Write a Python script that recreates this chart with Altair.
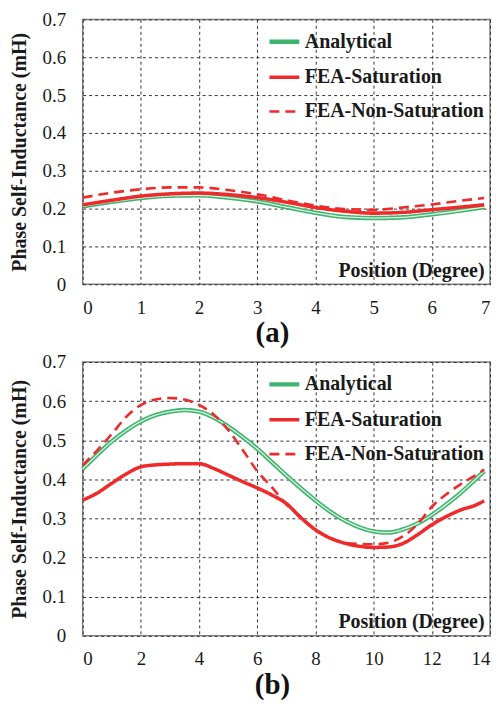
import altair as alt
import pandas as pd

series_names = ["Analytical", "FEA-Saturation", "FEA-Non-Saturation"]

# ---- panel (a) ----
pos_a = [0, 0.5, 1, 1.5, 2, 2.5, 3, 3.5, 4, 4.5, 5, 5.5, 6, 6.5, 6.9]
analytical_a = [0.206, 0.218, 0.228, 0.234, 0.235, 0.229, 0.219, 0.204, 0.189, 0.178,
                0.175, 0.177, 0.185, 0.195, 0.204]
saturation_a = [0.210, 0.222, 0.233, 0.239, 0.241, 0.237, 0.229, 0.217, 0.203, 0.193,
                0.188, 0.190, 0.197, 0.204, 0.210]
nonsat_a = [0.229, 0.242, 0.251, 0.256, 0.256, 0.249, 0.238, 0.222, 0.208, 0.199,
            0.197, 0.203, 0.211, 0.221, 0.228]
xticks_a = [0, 1, 2, 3, 4, 5, 6, 7]

# ---- panel (b) ----
pos_b = [0, 0.5, 1, 1.5, 2, 2.5, 3, 3.5, 4, 4.5, 5, 5.5, 6, 6.5, 7, 7.5, 8, 8.5, 9, 9.5,
         10, 10.5, 11, 11.5, 12, 12.5, 13, 13.5, 13.8]
analytical_b = [0.427, 0.463, 0.497, 0.525, 0.548, 0.564, 0.573, 0.577, 0.573, 0.558,
                0.535, 0.508, 0.478, 0.444, 0.410, 0.377, 0.346, 0.318, 0.295, 0.278,
                0.267, 0.264, 0.272, 0.287, 0.309, 0.336, 0.366, 0.400, 0.421]
saturation_b = [0.347, 0.365, 0.390, 0.414, 0.432, 0.437, 0.439, 0.440, 0.440, 0.428,
                0.411, 0.394, 0.378, 0.360, 0.338, 0.302, 0.271, 0.250, 0.237, 0.229,
                0.226, 0.227, 0.236, 0.258, 0.284, 0.305, 0.322, 0.334, 0.345]
nonsat_b = [0.436, 0.474, 0.516, 0.560, 0.590, 0.604, 0.608, 0.604, 0.590, 0.566,
            0.526, 0.475, 0.421, 0.380, 0.336, 0.303, 0.272, 0.251, 0.238, 0.235,
            0.234, 0.238, 0.254, 0.285, 0.330, 0.362, 0.388, 0.410, 0.425]
xticks_b = [0, 2, 4, 6, 8, 10, 12, 14]

yticks = [0, 0.1, 0.2, 0.3, 0.4, 0.5, 0.6, 0.7]

GREEN = "#3fb46e"
GREEN_IN = "#d9f2e3"
RED = "#ee2a2a"
FONT = "Liberation Serif"


def make_df(pos, ana, sat, non):
    rows = []
    for name, vals in zip(series_names, [ana, sat, non]):
        for p, v in zip(pos, vals):
            rows.append({"pos": p, "L": v, "series": name})
    return pd.DataFrame(rows)


def panel(df, xmax, xticks, h, label):
    x = alt.X("pos:Q", scale=alt.Scale(domain=[0, xmax], nice=False, zero=False),
              axis=alt.Axis(values=xticks, title="Position (Degree)", labelPadding=14,
                            titleX=403, titleY=-8, titleAlign="right", titleAnchor=None,
                            titleBaseline="alphabetic", format="d"))
    y = alt.Y("L:Q", scale=alt.Scale(domain=[0, 0.7], nice=False),
              axis=alt.Axis(values=yticks, title="Phase Self-Inductance (mH)", labelPadding=17,
                            titlePadding=13,
                            labelExpr="datum.value == 0 ? '0' : format(datum.value, '.1f')"))
    color = alt.Color("series:N", scale=alt.Scale(domain=series_names, range=[GREEN, RED, RED]),
                      legend=alt.Legend(title=None))
    dash = alt.StrokeDash("series:N",
                          scale=alt.Scale(domain=series_names, range=[[1, 0], [1, 0], [10, 6]]),
                          legend=alt.Legend(title=None))
    sw = alt.StrokeWidth("series:N",
                         scale=alt.Scale(domain=series_names, range=[4.5, 2.6, 2.6]),
                         legend=alt.Legend(title=None))
    base = alt.Chart(df)
    green = base.transform_filter(alt.datum.series == "Analytical").mark_line(
        interpolate="monotone").encode(x=x, y=y, color=color, strokeDash=dash, strokeWidth=sw)
    inner = base.transform_filter(alt.datum.series == "Analytical").mark_line(
        interpolate="monotone", color=GREEN_IN, strokeWidth=1.3).encode(x=x, y=y)
    reds = base.transform_filter(alt.datum.series != "Analytical").mark_line(
        interpolate="monotone").encode(x=x, y=y, color=color, strokeDash=dash, strokeWidth=sw)
    return alt.layer(green, inner, reds).properties(
        width=409, height=h,
        title=alt.TitleParams(text=label, orient="bottom", font=FONT, fontSize=29,
                              fontWeight="bold", anchor="middle", frame="group", dx=-14,
                              offset=2, color="#111"),
    )


top = panel(make_df(pos_a, analytical_a, saturation_a, nonsat_a), 7, xticks_a, 266, "(a)")
bottom = panel(make_df(pos_b, analytical_b, saturation_b, nonsat_b), 14, xticks_b, 275, "(b)")

chart = alt.vconcat(top, bottom, spacing=3).resolve_scale(
    color="independent", strokeDash="independent", strokeWidth="independent"
).resolve_legend(color="independent", strokeDash="independent", strokeWidth="independent"
).properties(padding={"left": 0, "top": 0, "right": 0, "bottom": 0}
).configure_view(stroke="#808080", strokeWidth=1.5
).configure_axis(
    labelFont=FONT, labelFontSize=19, labelColor="#1a1a1a", ticks=False, domain=False,
    grid=True, gridDash=[3, 3], gridColor="#333333", gridWidth=1, gridOpacity=1,
    titleFont=FONT, titleFontSize=20, titleFontWeight="bold", titleColor="#1a1a1a",
).configure_legend(
    orient="top-right", offset=5, padding=0, labelFont=FONT, labelFontSize=20,
    labelFontWeight="bold", labelColor="#1a1a1a", symbolType="stroke", symbolSize=900,
    rowPadding=8, labelOffset=3, labelLimit=0, symbolOpacity=1,
)

chart.save("out.html", embed_options={"renderer": "svg", "actions": False})
